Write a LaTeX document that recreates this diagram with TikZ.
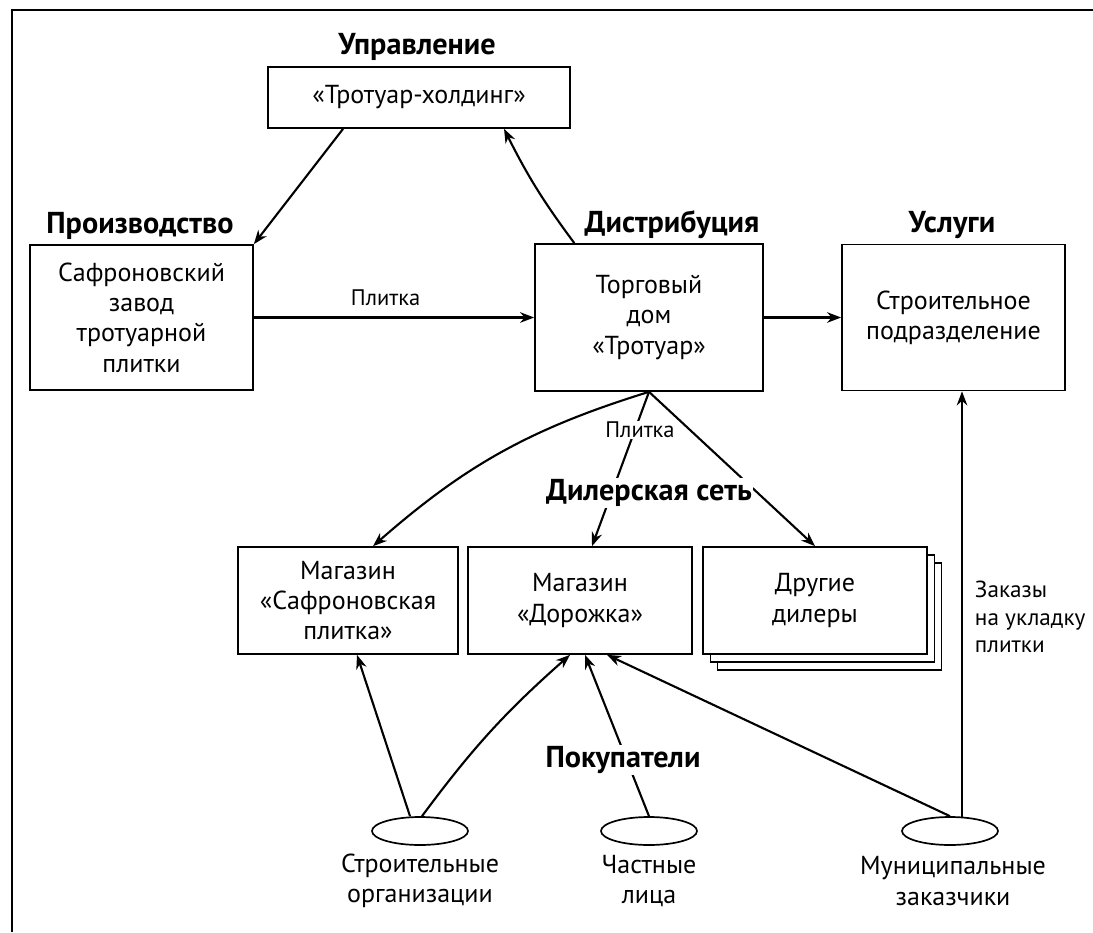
\documentclass[tikz,border=0pt]{standalone}
\usepackage{fontspec}
\setmainfont{PT Sans}
\usetikzlibrary{arrows.meta,calc,shapes.geometric,shadows}

\begin{document}
\begin{tikzpicture}[x=0.25mm, y=-0.25mm, >={Stealth[length=10pt,width=7.5pt]},
  box/.style={draw, line width=1.2pt, fill=white, align=center, inner sep=2pt,
    font=\fontsize{18.5}{21.5}\selectfont},
  head/.style={font=\fontsize{21.5}{25}\selectfont\bfseries},
  lbl/.style={font=\fontsize{16}{19}\selectfont},
  captxt/.style={align=center, font=\fontsize{18.5}{21.5}\selectfont},
  oval/.style={draw, ellipse, line width=1.2pt, minimum width=24mm,
    minimum height=7mm, inner sep=0pt},
  arr/.style={->, line width=1.5pt}]
\useasboundingbox (0,0) rectangle (1093,932);
% frame
\draw[line width=1.2pt] (12,932) -- (12,10) -- (1093,10);
% upper level
\node[box, minimum width=75.5mm, minimum height=15.25mm] (hold) at (419,97.5) {«Тротуар-холдинг»};
\node[box, minimum width=55.75mm, minimum height=36.25mm] (prod) at (141.5,317.5) {Сафроновский\\завод\\тротуарной\\плитки};
\node[box, minimum width=57mm, minimum height=36.75mm] (dist) at (649,317.5) {Торговый\\дом\\«Тротуар»};
\node[box, minimum width=55.75mm, minimum height=36.5mm] (serv) at (953.5,317.5) {Строительное\\подразделение};
\node[head] (hUpr) at (417,47) {Управление};
\node[head] (hProd) at (140,226) {Производство};
\node[head] (hDist) at (672,225) {Дистрибуция};
\node[head] (hUsl) at (952,225) {Услуги};
\draw[arr] ($(hold.south west)!0.25!(hold.south east)$) -- (prod.north east);
\draw[arr] ($(dist.north west)!0.175!(dist.north east)$) to[bend left=5] ($(hold.south west)!0.78!(hold.south east)$);
\draw[arr] (prod) -- node[lbl, above=1.5mm, pos=0.47] {Плитка} (dist);
\draw[arr] (dist) -- (serv);
% dealer network
\node[box, minimum width=55mm, minimum height=26.75mm] (b1) at (348,600.5) {Магазин\\«Сафроновская\\плитка»};
\node[box, minimum width=56mm, minimum height=26.75mm] (b2) at (580,600.5) {Магазин\\«Дорожка»};
\node[box, minimum width=56mm, minimum height=26.75mm,
  double copy shadow={shadow xshift=1.8mm, shadow yshift=-2mm, draw, fill=white, line width=1pt}] (b3) at (815,600.5) {Другие\\дилеры};
\draw[arr] (dist.south) to[bend right=12] ($(b1.north)+(25,0)$);
\draw[arr] (dist.south) -- ($(b2.north)+(12,0)$);
\draw[arr] (dist.south) -- (b3.north);
\node[lbl, fill=white, inner sep=1pt] (lPlit) at (640,430) {Плитка};
\node[head, fill=white, inner sep=1pt] (hDeal) at (649,493) {Дилерская сеть};
% buyers
\node[oval] (e1) at (420,831) {};
\node[oval] (e2) at (649,831) {};
\node[oval] (e3) at (950,831) {};
\node[captxt] (c1) at (420,881) {Строительные\\организации};
\node[captxt] (c2) at (649,881) {Частные\\лица};
\node[captxt] (c3) at (953,881) {Муниципальные\\заказчики};
\coordinate (mz) at ($(e3.north)+(12,1)$);
\draw[arr] ($(e1.north)+(-10,0)$) -- ($(b1.south)+(9,0)$);
\draw[arr] ($(e1.north)+(2,0)$) to[bend left=6] ($(b2.south)+(-10,0)$);
\draw[arr] (e2.north) -- ($(b2.south)+(5,0)$);
\draw[arr] (e3.north) -- ($(b2.south)+(27,0)$);
\draw[arr] (mz) -- (mz |- serv.south);
\node[head, fill=white, inner sep=1pt] (hBuy) at (623,760) {Покупатели};
\node[lbl, align=left, anchor=west, font=\fontsize{16.5}{19.5}\selectfont] (lZak) at (970,617) {Заказы\\на укладку\\плитки};
\end{tikzpicture}
\end{document}
